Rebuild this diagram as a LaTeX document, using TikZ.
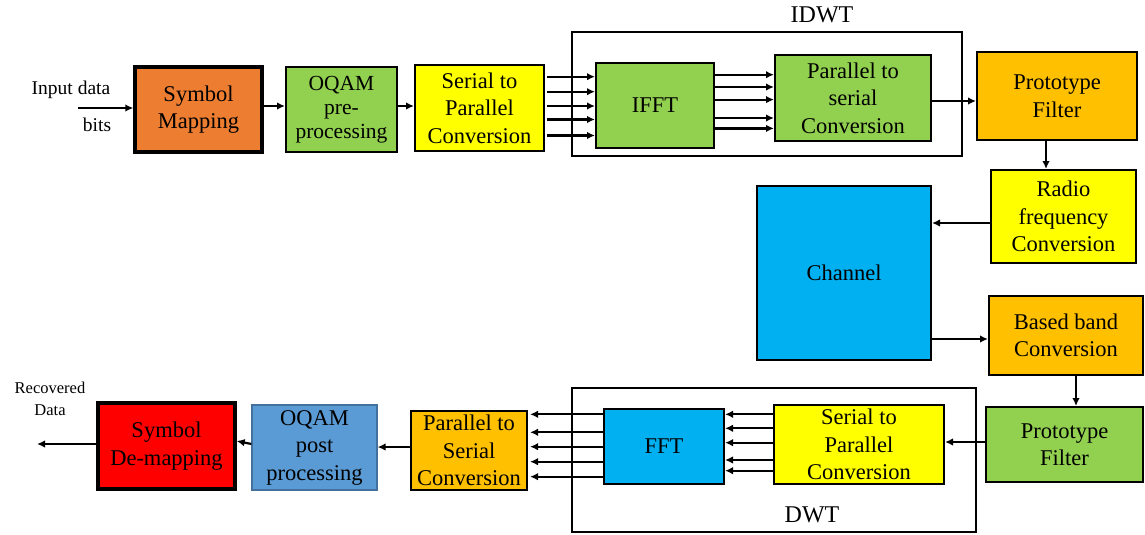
\documentclass[tikz,border=0pt]{standalone}
\usepackage{fontspec}
\setmainfont{Liberation Serif}
\newfontfamily\tnr{Liberation Serif}
\usetikzlibrary{arrows.meta}
\definecolor{cOrange}{HTML}{ED7D31}
\definecolor{cGreen}{HTML}{92D050}
\definecolor{cYellow}{HTML}{FFFF00}
\definecolor{cAmber}{HTML}{FFC000}
\definecolor{cCyan}{HTML}{00B0F0}
\definecolor{cSteel}{HTML}{5B9BD5}
\definecolor{cSteelLine}{HTML}{41719C}
\definecolor{cRed}{HTML}{FF0000}
\tikzset{
  blk/.style={draw=black, line width=2pt, align=center, inner sep=0pt,
    font=\tnr\fontsize{22.5}{27.5}\selectfont},
  heavy/.style={blk, line width=3.4pt},
  frame/.style={draw=black, line width=1.3pt},
  arr/.style={line width=2.2pt, -{Latex[length=8pt,width=7.5pt]}},
  lbl/.style={inner sep=0pt, align=center}
}
\begin{document}
\begin{tikzpicture}[x=1pt,y=-1pt]
\useasboundingbox (0,0) rectangle (1145,535);

% DWT / IDWT enclosures
\draw[frame] (572,32) rectangle (962,156);
\draw[frame] (572,388) rectangle (976,532);
\node[lbl, font=\tnr\fontsize{24}{28}\selectfont] (idwt) at (822,15) {IDWT};
\node[lbl, font=\tnr\fontsize{24}{28}\selectfont] (dwt) at (812,515) {DWT};

% transmitter chain
\node[heavy, fill=cOrange, minimum width=127pt, minimum height=85pt] (map) at (198.5,109.5) {Symbol\\Mapping};
\node[blk, fill=cGreen, minimum width=111pt, minimum height=85pt,
  font=\tnr\fontsize{21.5}{24}\selectfont] (pre) at (341.5,109.5) {OQAM\\pre-\\processing};
\node[blk, fill=cYellow, minimum width=129pt, minimum height=86pt] (sp1) at (479.5,108) {Serial to\\Parallel\\Conversion};
\node[blk, fill=cGreen, minimum width=118pt, minimum height=85pt] (ifft) at (655,105.5) {IFFT};
\node[blk, fill=cGreen, minimum width=156pt, minimum height=86pt] (ps1) at (853,98) {Parallel to\\serial\\Conversion};
\node[blk, fill=cAmber, minimum width=160pt, minimum height=88pt] (pf1) at (1057,96) {Prototype\\Filter};
\node[blk, fill=cYellow, minimum width=145pt, minimum height=93pt] (rf) at (1063.5,216.5) {Radio\\frequency\\Conversion};

% channel
\node[blk, fill=cCyan, minimum width=174pt, minimum height=174pt] (ch) at (844,273) {Channel};

% receiver chain
\node[blk, fill=cAmber, minimum width=154pt, minimum height=79pt] (bb) at (1066,335.5) {Based band\\Conversion};
\node[blk, fill=cGreen, minimum width=157pt, minimum height=75pt] (pf2) at (1064.5,444.5) {Prototype\\Filter};
\node[blk, fill=cYellow, minimum width=170pt, minimum height=79pt] (sp2) at (859,444.5) {Serial to\\Parallel\\Conversion};
\node[blk, fill=cCyan, minimum width=120pt, minimum height=75pt] (fft) at (664,446.5) {FFT};
\node[blk, fill=cAmber, minimum width=116pt, minimum height=79pt] (ps2) at (469,450.5) {Parallel to\\Serial\\Conversion};
\node[blk, draw=cSteelLine, line width=1.2pt, fill=cSteel, minimum width=125pt, minimum height=85pt] (post) at (314.5,447.5) {OQAM\\post\\processing};
\node[heavy, fill=cRed, minimum width=137pt, minimum height=86pt] (demap) at (166.5,446) {Symbol\\De-mapping};

% free-standing labels and loose ends
\node[lbl, font=\tnr\fontsize{19.5}{23}\selectfont] (inA) at (71,90) {Input data};
\node[lbl, font=\tnr\fontsize{19.5}{23}\selectfont] (inB) at (97,125) {bits};
\node[lbl, font=\tnr\fontsize{16.5}{22}\selectfont] (outlbl) at (50,399) {Recovered\\Data};
\coordinate (src) at (78,108);
\coordinate (sink) at (37,444);

% transmitter connections
\draw[arr] (src) -- (map.west |- src);
\draw[arr] (map.east |- 0,106) -- (pre.west |- 0,106);
\draw[arr] (pre.east |- 0,106) -- (sp1.west |- 0,106);
\foreach \y in {76.7,91.7,106,119.5,135.5}
  \draw[arr] ([xshift=2pt]sp1.east |- 0,\y) -- (ifft.west |- 0,\y);
\foreach \y in {74.7,87,99.6,118,128.4}
  \draw[arr] (ifft.east |- 0,\y) -- (ps1.west |- 0,\y);
\draw[arr] (ps1.east |- 0,101) -- (pf1.west |- 0,101);
\draw[arr] (pf1.south -| 1046,0) -- (rf.north -| 1046,0);
\draw[arr] (rf.west |- 0,223) -- (ch.east |- 0,223);

% receiver connections
\draw[arr] (ch.east |- 0,339) -- (bb.west |- 0,339);
\draw[arr] (bb.south -| 1076,0) -- (pf2.north -| 1076,0);
\draw[arr] (pf2.west |- 0,442) -- (sp2.east |- 0,442);
\foreach \y in {414.3,428.3,442.7,460,470.7}
  \draw[arr] (sp2.west |- 0,\y) -- (fft.east |- 0,\y);
\foreach \y in {414.3,432.3,446.7,461.7,476.7}
  \draw[arr] (fft.west |- 0,\y) -- ([xshift=2pt]ps2.east |- 0,\y);
\draw[arr] (ps2.west |- 0,447) -- (post.east |- 0,447);
\draw[arr] (post.west |- 0,444) -- (demap.east |- 0,441);
\draw[arr] (demap.west |- sink) -- (sink);
\end{tikzpicture}
\end{document}
